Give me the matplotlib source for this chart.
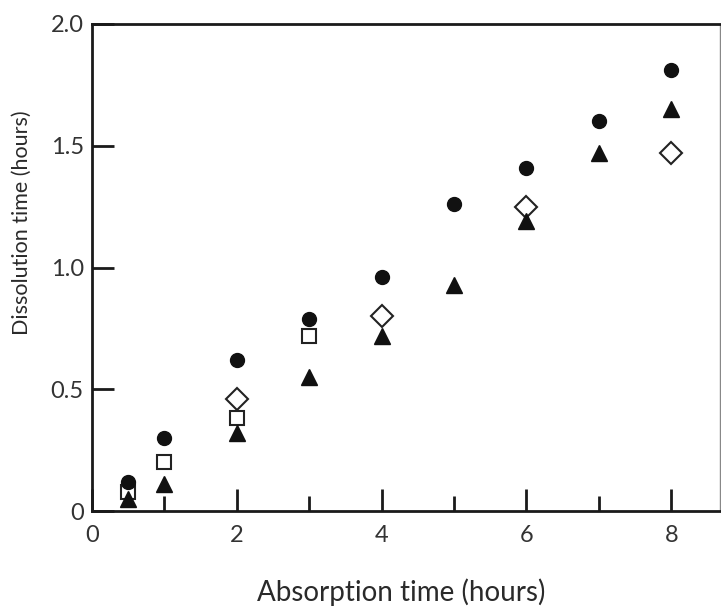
import matplotlib
matplotlib.use("Agg")
import matplotlib.pyplot as plt
from matplotlib.ticker import FixedLocator

plt.rcParams['font.family'] = ['Lato', 'DejaVu Sans']

# Data
circle_x = [0.5, 1, 2, 3, 4, 5, 6, 7, 8]
circle_y = [0.12, 0.30, 0.62, 0.79, 0.96, 1.26, 1.41, 1.60, 1.81]

triangle_x = [0.5, 1, 2, 3, 4, 5, 6, 7, 8]
triangle_y = [0.05, 0.11, 0.32, 0.55, 0.72, 0.93, 1.19, 1.47, 1.65]

diamond_x = [2, 4, 6, 8]
diamond_y = [0.46, 0.80, 1.25, 1.47]

square_x = [0.5, 1, 2, 3]
square_y = [0.08, 0.20, 0.38, 0.72]

x_major = [0, 2, 4, 6, 8]
x_minor = [1, 3, 5, 7]
y_ticks = [0, 0.5, 1.0, 1.5, 2.0]
y_ticklabels = ["0", "0.5", "1.0", "1.5", "2.0"]
x_ticklabels = ["0", "2", "4", "6", "8"]

W, H = 721, 608
fig = plt.figure(figsize=(W / 100, H / 100), dpi=100)
x0, y0, x1, y1 = 92, 511, 720, 24
ax = fig.add_axes([x0 / W, (H - y0) / H, (x1 - x0) / W, (y0 - y1) / H])
ax.set_xlim(0, (x1 - x0) / 72.4)
ax.set_ylim(0, 2.0)

ax.plot(square_x, square_y, linestyle='none', marker='s', markersize=10,
        markerfacecolor='white', markeredgecolor='#222222', markeredgewidth=1.5, zorder=3)
ax.plot(diamond_x, diamond_y, linestyle='none', marker='D', markersize=11.5,
        markerfacecolor='white', markeredgecolor='#222222', markeredgewidth=1.5, zorder=3)
ax.plot(triangle_x, triangle_y, linestyle='none', marker='^', markersize=11,
        color='#111111', zorder=4)
ax.plot(circle_x, circle_y, linestyle='none', marker='o', markersize=10,
        color='#111111', zorder=4)

for s in ax.spines.values():
    s.set_linewidth(2.0)
    s.set_color('#1a1a1a')
ax.spines['right'].set_linewidth(1.0)
ax.spines['right'].set_color('#888888')

ax.xaxis.set_major_locator(FixedLocator(x_major))
ax.xaxis.set_minor_locator(FixedLocator(x_minor))
ax.set_xticklabels(x_ticklabels)
ax.set_yticks(y_ticks)
ax.set_yticklabels(y_ticklabels)

ax.tick_params(axis='x', which='major', direction='in', length=16, width=2,
               colors='#1a1a1a', labelsize=17, pad=10, labelcolor='#333333')
ax.tick_params(axis='x', which='minor', direction='in', length=11, width=2, colors='#1a1a1a')
ax.tick_params(axis='y', which='major', direction='in', length=16, width=2,
               colors='#1a1a1a', labelsize=17, pad=6, labelcolor='#333333')

fig.text(401 / W, 1 - 592 / H, "Absorption time (hours)", ha='center', va='center',
         fontsize=20, color='#2a2a2a')
fig.text(22 / W, 1 - 223 / H, "Dissolution time (hours)", ha='center', va='center',
         rotation=90, fontsize=15.5, color='#2a2a2a')

fig.savefig("out.png", dpi=100)
